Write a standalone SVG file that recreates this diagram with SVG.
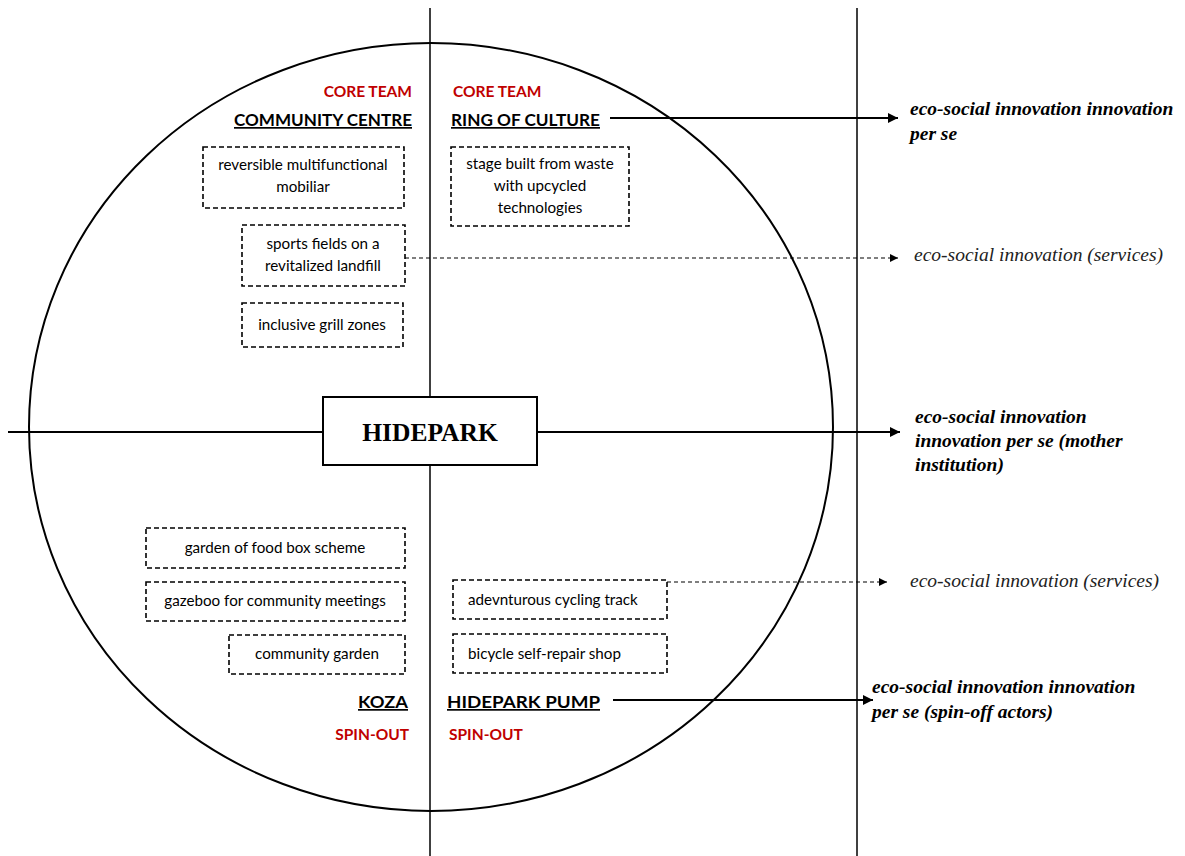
<svg xmlns="http://www.w3.org/2000/svg" width="1185" height="856" viewBox="0 0 1185 856">
<defs>
<marker id="ah" viewBox="0 0 10 10" refX="10" refY="5" markerWidth="10" markerHeight="10" markerUnits="userSpaceOnUse" orient="auto">
<path d="M0,0 L10,5 L0,10 z" fill="#000"/>
</marker>
<marker id="ahs" viewBox="0 0 10 10" refX="10" refY="5" markerWidth="8" markerHeight="8" markerUnits="userSpaceOnUse" orient="auto">
<path d="M0,0 L10,5 L0,10 z" fill="#000"/>
</marker>
</defs>
<style>
.bx{fill:#fff;stroke:#000;stroke-width:1.6;stroke-dasharray:5 3}
.bt{font-family:Lato,"Liberation Sans",sans-serif;font-size:15.2px;fill:#000;text-anchor:middle}
.red{font-family:Lato,"Liberation Sans",sans-serif;font-size:15.5px;font-weight:bold;fill:#C00000}
.hd{font-family:Lato,"Liberation Sans",sans-serif;font-size:17px;font-weight:bold;fill:#000;text-decoration:underline}
.es{font-family:"Liberation Serif",serif;font-size:19.5px;font-style:italic;font-weight:bold;fill:#000}
.sv{font-family:"Liberation Serif",serif;font-size:19.5px;font-style:italic;fill:#222}
.ln{stroke:#000;stroke-width:1.5;fill:none}
.cn{stroke:#000;stroke-width:2;fill:none}
.dn{stroke:#000;stroke-width:1.2;stroke-dasharray:4 3;fill:none}
</style>
<rect width="1185" height="856" fill="#fff"/>
<g id="frame">
<ellipse cx="431" cy="427" rx="402" ry="384" fill="none" stroke="#000" stroke-width="2"/>
<line class="ln" x1="430" y1="8" x2="430" y2="856"/>
<line class="ln" x1="857" y1="8" x2="857" y2="856"/>
<line class="cn" x1="8" y1="432" x2="323" y2="432"/>
</g>
<g id="connectors">
<line class="cn" x1="610" y1="118" x2="898" y2="118" marker-end="url(#ah)"/>
<line class="dn" x1="405" y1="258" x2="898" y2="258" marker-end="url(#ahs)"/>
<line class="cn" x1="537" y1="432" x2="900" y2="432" marker-end="url(#ah)"/>
<line class="dn" x1="667" y1="582" x2="887" y2="582" marker-end="url(#ahs)"/>
<line class="cn" x1="613" y1="700" x2="873" y2="700" marker-end="url(#ah)"/>
</g>
<g id="hidepark">
<rect x="323" y="397" width="214" height="68" fill="#fff" stroke="#000" stroke-width="2"/>
<text x="430" y="441" font-family="'Liberation Serif',serif" font-size="25.5" font-weight="bold" text-anchor="middle">HIDEPARK</text>
</g>
<g id="community-centre">
<text class="red" x="412" y="97" text-anchor="end">CORE TEAM</text>
<text class="hd" x="412" y="126" text-anchor="end" textLength="178" lengthAdjust="spacingAndGlyphs">COMMUNITY CENTRE</text>
</g>
<g id="ring-of-culture">
<text class="red" x="453" y="97">CORE TEAM</text>
<text class="hd" x="451" y="126" textLength="149" lengthAdjust="spacingAndGlyphs">RING OF CULTURE</text>
</g>
<g id="box-mobiliar">
<rect class="bx" x="203" y="147" width="201" height="61"/>
<text class="bt" x="303" y="170">reversible multifunctional</text>
<text class="bt" x="303" y="192">mobiliar</text>
</g>
<g id="box-stage">
<rect class="bx" x="451" y="147" width="178" height="79"/>
<text class="bt" x="540" y="169">stage built from waste</text>
<text class="bt" x="540" y="191">with upcycled</text>
<text class="bt" x="540" y="213">technologies</text>
</g>
<g id="box-sports">
<rect class="bx" x="242" y="225" width="163" height="61"/>
<text class="bt" x="323" y="249">sports fields on a</text>
<text class="bt" x="323" y="271">revitalized landfill</text>
</g>
<g id="box-grill">
<rect class="bx" x="242" y="303" width="161" height="44"/>
<text class="bt" x="322" y="330">inclusive grill zones</text>
</g>
<g id="box-foodbox">
<rect class="bx" x="146" y="528" width="259" height="40"/>
<text class="bt" x="275" y="553">garden of food box scheme</text>
</g>
<g id="box-gazeboo">
<rect class="bx" x="146" y="582" width="259" height="39"/>
<text class="bt" x="275" y="606">gazeboo for community meetings</text>
</g>
<g id="box-garden">
<rect class="bx" x="229" y="635" width="176" height="39"/>
<text class="bt" x="317" y="659">community garden</text>
</g>
<g id="box-cycling">
<rect class="bx" x="453" y="580" width="214" height="39"/>
<text class="bt" x="468" y="605" style="text-anchor:start">adevnturous cycling track</text>
</g>
<g id="box-repair">
<rect class="bx" x="453" y="634" width="214" height="39"/>
<text class="bt" x="468" y="659" style="text-anchor:start">bicycle self-repair shop</text>
</g>
<g id="koza">
<text class="hd" x="408" y="708" text-anchor="end" textLength="50" lengthAdjust="spacingAndGlyphs">KOZA</text>
<text class="red" x="409" y="740" text-anchor="end">SPIN-OUT</text>
</g>
<g id="hidepark-pump">
<text class="hd" x="447" y="708" textLength="153" lengthAdjust="spacingAndGlyphs">HIDEPARK PUMP</text>
<text class="red" x="449" y="740">SPIN-OUT</text>
</g>
<g id="outcome-1">
<text class="es" x="910" y="115">eco-social innovation innovation</text>
<text class="es" x="910" y="140">per se</text>
</g>
<g id="outcome-2">
<text class="sv" x="914" y="261">eco-social innovation (services)</text>
</g>
<g id="outcome-3">
<text class="es" x="915" y="423">eco-social innovation</text>
<text class="es" x="915" y="447">innovation per se (mother</text>
<text class="es" x="915" y="471">institution)</text>
</g>
<g id="outcome-4">
<text class="sv" x="910" y="587">eco-social innovation (services)</text>
</g>
<g id="outcome-5">
<text class="es" x="872" y="693">eco-social innovation innovation</text>
<text class="es" x="872" y="718">per se (spin-off actors)</text>
</g>
</svg>
